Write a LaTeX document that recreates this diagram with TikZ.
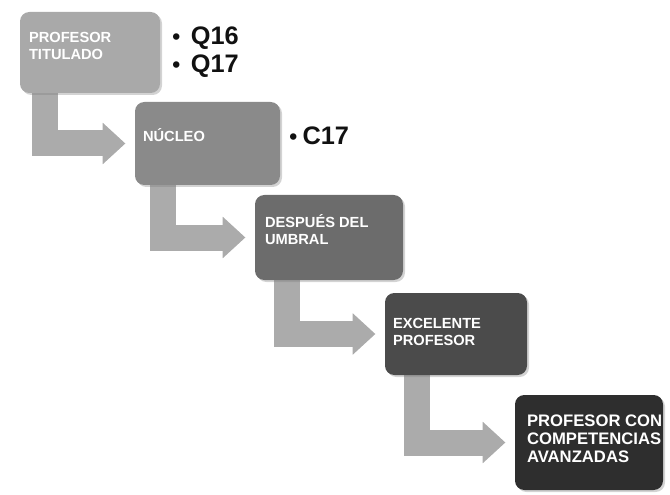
\documentclass[tikz,border=0pt]{standalone}
\usepackage{fontspec}
\setmainfont{Liberation Sans}
\usepackage{xcolor}
\usetikzlibrary{arrows.meta, positioning, calc, shadows, backgrounds}
\definecolor{darktext}{HTML}{111111}
\definecolor{toneA}{HTML}{A9A9A9}
\definecolor{toneB}{HTML}{8A8A8A}
\definecolor{toneC}{HTML}{6C6C6C}
\definecolor{toneD}{HTML}{4B4B4B}
\definecolor{toneE}{HTML}{2E2E2E}
\definecolor{arrowfill}{HTML}{ABABAB}
\newcommand{\itemdot}[1]{{\fontsize{17}{17}\selectfont\raisebox{0.6pt}{•}}\hspace{#1}}

\begin{document}
\begin{tikzpicture}[x=0.75pt, y=-0.75pt,
            stage/.style={fill=#1, rounded corners=7pt, inner sep=0pt, drop shadow={opacity=0.35, shadow xshift=1.5pt, shadow yshift=-1.5pt}},
            stagetext/.style={text=white, font=\bfseries\fontsize{11}{13}\selectfont, align=left, anchor=base west, inner sep=0pt},
            item/.style={text=darktext, font=\bfseries\fontsize{19}{21}\selectfont, anchor=base west, inner sep=0pt},
            fat/.style={arrowfill, line width=19.5pt, -{Triangle[length=17pt, width=30pt]}, shorten >=7pt}
        ]
            \useasboundingbox (0,0) rectangle (670,495);
            \node[stage=toneA, minimum width=105pt, minimum height=60.75pt] (titulado) at (90,52.5) {};
            \node[stage=toneB, minimum width=108.75pt, minimum height=62.25pt] (nucleo) at (207.5,143.5) {};
            \node[stage=toneC, minimum width=111pt, minimum height=63.75pt] (umbral) at (329,237.5) {};
            \node[stage=toneD, minimum width=106.5pt, minimum height=61.5pt] (excelente) at (456,334) {};
            \node[stage=toneE, minimum width=111pt, minimum height=71.25pt] (avanzado) at (589,442.5) {};
            % box texts (base = last line)
            \node[stagetext] (titulado-txt) at ([shift={(9,48)}]titulado.north west) {PROFESOR\\TITULADO};
            \node[stagetext] (nucleo-txt) at ([shift={(8,40)}]nucleo.north west) {NÚCLEO};
            \node[stagetext] (umbral-txt) at ([shift={(10,50)}]umbral.north west) {DESPUÉS DEL\\UMBRAL};
            \node[stagetext] (excelente-txt) at ([shift={(8,53)}]excelente.north west) {EXCELENTE\\PROFESOR};
            \node[stagetext, font=\bfseries\fontsize{12.5}{13.5}\selectfont] (avanzado-txt) at ([shift={(12,68)}]avanzado.north west) {PROFESOR CON\\COMPETENCIAS\\AVANZADAS};
            % items
            \node[item] (q16) at (172,45) {\itemdot{8pt}Q16};
            \node[item] (q17) at ([yshift=-21pt]q16.base west) {\itemdot{8pt}Q17};
            \node[item] (c17) at (289,145) {\itemdot{4pt}C17};
            \begin{scope}[on background layer]
                \draw[fat] ([xshift=19pt, yshift=4pt]titulado.south west) |- (nucleo.west);
                \draw[fat] ([xshift=21pt, yshift=4pt]nucleo.south west) |- (umbral.west);
                \draw[fat] ([xshift=24pt, yshift=4pt]umbral.south west) |- (excelente.west);
                \draw[fat] ([xshift=24pt, yshift=4pt]excelente.south west) |- (avanzado.west);
            \end{scope}
        \end{tikzpicture}
\end{document}
